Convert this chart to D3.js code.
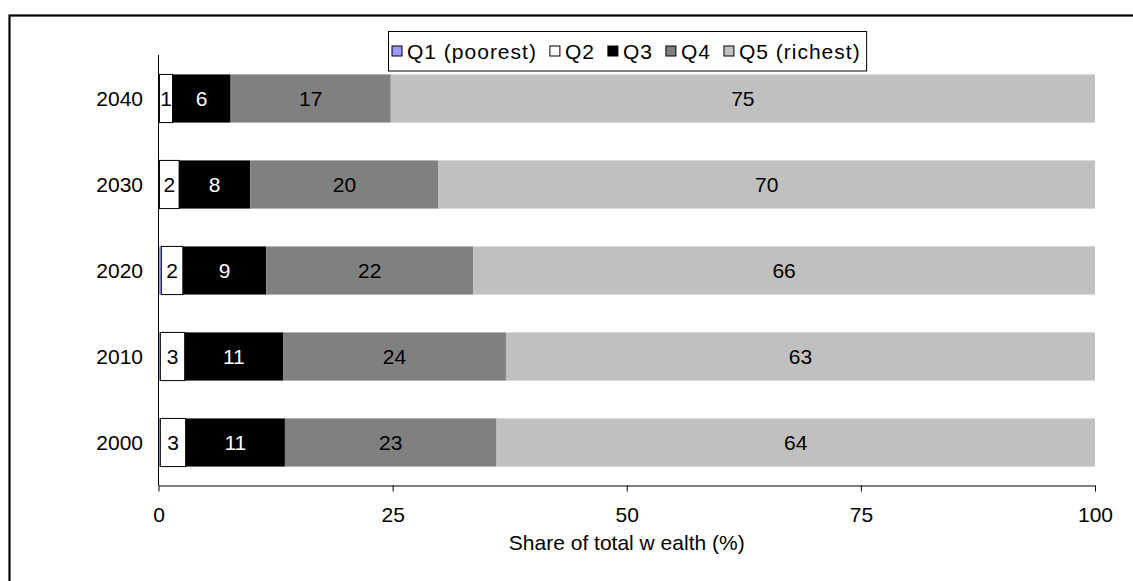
<!DOCTYPE html>
<html>
<head>
<meta charset="utf-8">
<script src="https://cdn.jsdelivr.net/npm/d3@7"></script>
<style>
  html, body { margin: 0; padding: 0; background: #fff; }
  svg { display: block; font-family: "Liberation Sans", Arial, sans-serif; }
</style>
</head>
<body>
<svg id="chart" width="1133" height="581"></svg>
<script>
// Share of total wealth by quintile, per year (%)
const years = ["2040", "2030", "2020", "2010", "2000"];
const seriesNames = ["Q1 (poorest)", "Q2", "Q3", "Q4", "Q5 (richest)"];
const q1 = [0.1, 0.1, 0.3, 0.2, 0.2];
const q2 = [1.4, 2.1, 2.3, 2.6, 2.7];
const q3 = [6.2, 7.6, 8.9, 10.5, 10.6];
const q4 = [17.1, 20.1, 22.1, 23.8, 22.6];
const q5 = [75.2, 70.1, 66.4, 62.9, 63.9];
const xTicks = [0, 25, 50, 75, 100];
const axisTitle = "Share of total w ealth (%)";

const fills = ["#9999FF", "#FFFFFF", "#000000", "#808080", "#C0C0C0"];
const labelColors = [null, "#000", "#fff", "#000", "#000"];
const FONT = 21;

const svg = d3.select("#chart");

// outer frame
svg.append("rect")
  .attr("x", 9.5).attr("y", 15.5)
  .attr("width", 1140).attr("height", 600)
  .attr("fill", "none").attr("stroke", "#000").attr("stroke-width", 2.2);

const rows = years.map((y, i) => ({ year: y, Q1: q1[i], Q2: q2[i], Q3: q3[i], Q4: q4[i], Q5: q5[i] }));
const keys = ["Q1", "Q2", "Q3", "Q4", "Q5"];
const stacked = d3.stack().keys(keys)(rows);

const x = d3.scaleLinear().domain([0, 100]).range([158.5, 1095]);
const y = d3.scaleBand().domain(years).range([55.5, 485.5]).paddingInner(0.44).paddingOuter(0.22);

// bars
const layers = svg.append("g").selectAll("g")
  .data(stacked).join("g")
  .attr("fill", (d, i) => fills[i]);

layers.selectAll("rect")
  .data(d => d.map(s => ({ key: d.key, s })))
  .join("rect")
  .attr("x", d => x(d.s[0]))
  .attr("y", d => y(d.s.data.year))
  .attr("width", d => x(d.s[1]) - x(d.s[0]))
  .attr("height", y.bandwidth())
  .attr("stroke", d => d.key === "Q2" ? "#000" : "none")
  .attr("stroke-width", 1);

// value labels (rounded shares)
stacked.forEach((layer, i) => {
  if (!labelColors[i]) return;
  svg.append("g").selectAll("text")
    .data(layer).join("text")
    .attr("x", d => (x(d[0]) + x(d[1])) / 2)
    .attr("y", d => y(d.data.year) + y.bandwidth() / 2)
    .attr("dy", "0.36em")
    .attr("text-anchor", "middle")
    .attr("font-size", FONT)
    .attr("fill", labelColors[i])
    .text(d => Math.round(d[1] - d[0]));
});

// category axis
svg.append("line")
  .attr("x1", x(0)).attr("x2", x(0))
  .attr("y1", 55).attr("y2", 485.5)
  .attr("stroke", "#000");
svg.append("g").selectAll("text")
  .data(years).join("text")
  .attr("x", 143)
  .attr("y", d => y(d) + y.bandwidth() / 2)
  .attr("dy", "0.36em")
  .attr("text-anchor", "end")
  .attr("font-size", FONT)
  .text(d => d);

// value axis
const xAxis = svg.append("g")
  .attr("transform", "translate(0,485.5)")
  .call(d3.axisBottom(x).tickValues(xTicks).tickSize(6).tickPadding(16).tickSizeOuter(0));
xAxis.select(".domain").attr("stroke", "#000");
xAxis.selectAll(".tick line").attr("stroke", "#000");
xAxis.selectAll(".tick text")
  .attr("font-size", FONT)
  .attr("font-family", "Liberation Sans, Arial, sans-serif")
  .attr("fill", "#000");

svg.append("text")
  .attr("x", (x(0) + x(100)) / 2)
  .attr("y", 550)
  .attr("text-anchor", "middle")
  .attr("font-size", FONT)
  .text(axisTitle);

// legend
const legend = svg.append("g");
const legendBox = legend.append("rect")
  .attr("y", 31.5).attr("height", 39.5)
  .attr("fill", "#fff").attr("stroke", "#000").attr("stroke-width", 1);
let cx = 392;
const ly = 51.5;
seriesNames.forEach((name, i) => {
  legend.append("rect")
    .attr("x", cx).attr("y", ly - 5.5)
    .attr("width", 10).attr("height", 10)
    .attr("fill", fills[i]).attr("stroke", "#000").attr("stroke-width", 1);
  const t = legend.append("text")
    .attr("x", cx + 15).attr("y", ly)
    .attr("dy", "0.36em")
    .attr("font-size", FONT)
    .attr("letter-spacing", 1)
    .text(name);
  cx += 15 + t.node().getComputedTextLength() + 13;
});
legendBox.attr("x", 388.5).attr("width", cx - 388.5 - 7);
</script>
</body>
</html>
